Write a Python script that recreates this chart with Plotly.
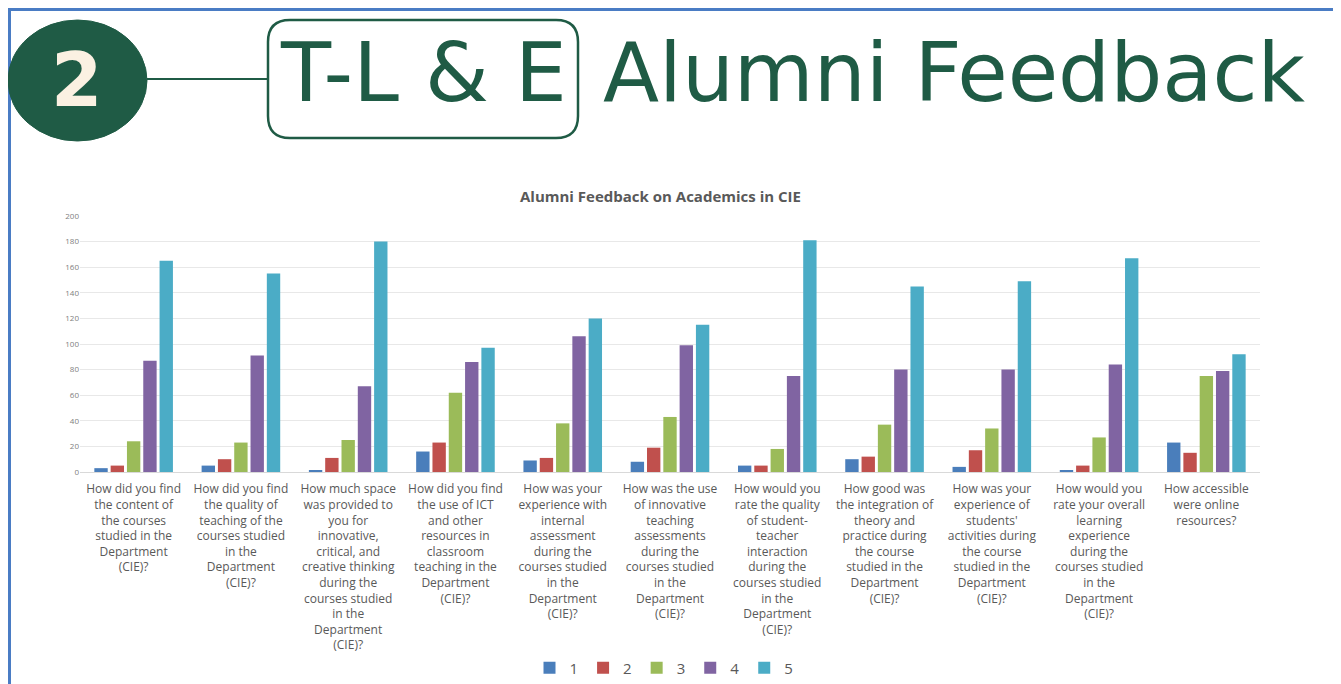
import plotly.graph_objects as go

# ---------------- data ----------------
categories = [
    "How did you find the content of the courses studied in the Department (CIE)?",
    "How did you find the quality of teaching of the courses studied in the Department (CIE)?",
    "How much space was provided to you for innovative, critical, and creative thinking during the courses studied in the Department (CIE)?",
    "How did you find the use of ICT and other resources in classroom teaching in the Department (CIE)?",
    "How was your experience with internal assessment during the courses studied in the Department (CIE)?",
    "How was the use of innovative teaching assessments during the courses studied in the Department (CIE)?",
    "How would you rate the quality of student-teacher interaction during the courses studied in the Department (CIE)?",
    "How good was the integration of theory and practice during the course studied in the Department (CIE)?",
    "How was your experience of students' activities during the course studied in the Department (CIE)?",
    "How would you rate your overall learning experience during the courses studied in the Department (CIE)?",
    "How accessible were online resources?",
]

tick_labels = [
    "How did you find<br>the content of<br>the courses<br>studied in the<br>Department<br>(CIE)?",
    "How did you find<br>the quality of<br>teaching of the<br>courses studied<br>in the<br>Department<br>(CIE)?",
    "How much space<br>was provided to<br>you for<br>innovative,<br>critical, and<br>creative thinking<br>during the<br>courses studied<br>in the<br>Department<br>(CIE)?",
    "How did you find<br>the use of ICT<br>and other<br>resources in<br>classroom<br>teaching in the<br>Department<br>(CIE)?",
    "How was your<br>experience with<br>internal<br>assessment<br>during the<br>courses studied<br>in the<br>Department<br>(CIE)?",
    "How was the use<br>of innovative<br>teaching<br>assessments<br>during the<br>courses studied<br>in the<br>Department<br>(CIE)?",
    "How would you<br>rate the quality<br>of student-<br>teacher<br>interaction<br>during the<br>courses studied<br>in the<br>Department<br>(CIE)?",
    "How good was<br>the integration of<br>theory and<br>practice during<br>the course<br>studied in the<br>Department<br>(CIE)?",
    "How was your<br>experience of<br>students'<br>activities during<br>the course<br>studied in the<br>Department<br>(CIE)?",
    "How would you<br>rate your overall<br>learning<br>experience<br>during the<br>courses studied<br>in the<br>Department<br>(CIE)?",
    "How accessible<br>were online<br>resources?",
]

series_names = ["1", "2", "3", "4", "5"]
rating_1 = [3, 5, 1, 16, 9, 8, 5, 10, 4, 1, 23]
rating_2 = [5, 10, 11, 23, 11, 19, 5, 12, 17, 5, 15]
rating_3 = [24, 23, 25, 62, 38, 43, 18, 37, 34, 27, 75]
rating_4 = [87, 91, 67, 86, 106, 99, 75, 80, 80, 84, 79]
rating_5 = [165, 155, 180, 97, 120, 115, 181, 145, 149, 167, 92]

y_ticks = [0, 20, 40, 60, 80, 100, 120, 140, 160, 180, 200]

# ---------------- styling ----------------
colors = ["#4a7ebb", "#c0504d", "#9bbb59", "#8064a2", "#4bacc6"]
OFF = 8                      # page body margin
W, H = 1341 - OFF, 684 - OFF
PL, PR, PT, PB = 80, 1260, 216, 472   # plot area in page pixels
L, T = PL - OFF, PT - OFF
R, B = W - (PR - OFF), H - (PB - OFF)
PW, PH = PR - PL, PB - PT


def px(x):
    return (x - PL) / PW


def py(y):
    return (PB - y) / PH


fig = go.Figure()
for name, vals, c in zip(series_names,
                         [rating_1, rating_2, rating_3, rating_4, rating_5],
                         colors):
    fig.add_trace(go.Bar(x=categories, y=vals, name=name, marker_color=c,
                         marker_line_width=0))

green = "#1f5b45"
shapes = [
    # slide border
    dict(type="rect", xref="paper", yref="paper", x0=px(9.5), x1=px(1338),
         y0=py(700), y1=py(9.5), line=dict(color="#4a7cc4", width=3)),
    # circle
    dict(type="circle", xref="paper", yref="paper", x0=px(8), x1=px(147),
         y0=py(141), y1=py(20), fillcolor=green, line=dict(color=green, width=1)),
    # connector line
    dict(type="line", xref="paper", yref="paper", x0=px(147), x1=px(269),
         y0=py(79), y1=py(79), line=dict(color=green, width=2)),
]
# rounded box
x0, x1, y0, y1, r = 268, 578, 20, 138, 22


def P(x, y):
    return f"{px(x)},{py(y)}"


path = (f"M {P(x0 + r, y0)} L {P(x1 - r, y0)} Q {P(x1, y0)} {P(x1, y0 + r)} "
        f"L {P(x1, y1 - r)} Q {P(x1, y1)} {P(x1 - r, y1)} "
        f"L {P(x0 + r, y1)} Q {P(x0, y1)} {P(x0, y1 - r)} "
        f"L {P(x0, y0 + r)} Q {P(x0, y0)} {P(x0 + r, y0)} Z")
shapes.append(dict(type="path", xref="paper", yref="paper", path=path,
                   line=dict(color=green, width=2.5)))

hfont = dict(family="DejaVu Sans", size=82, color=green)
annotations = [
    dict(text="<b>2</b>", x=px(77), y=py(80), xref="paper", yref="paper",
         showarrow=False, xanchor="center", yanchor="middle",
         font=dict(family="DejaVu Sans", size=74, color="#fbf1e2")),
    dict(text="T-L & E", x=px(423), y=py(72), xref="paper", yref="paper",
         showarrow=False, xanchor="center", yanchor="middle", font=hfont),
    dict(text="Alumni Feedback", x=px(954), y=py(72), xref="paper", yref="paper",
         showarrow=False, xanchor="center", yanchor="middle", font=hfont),
    dict(text="<b>Alumni Feedback on Academics in CIE</b>", x=px(660), y=py(196),
         xref="paper", yref="paper", showarrow=False, xanchor="center",
         yanchor="middle", font=dict(family="Open Sans", size=15, color="#595959")),
]

fig.update_layout(
    width=W, height=H,
    margin=dict(l=L, r=R, t=T, b=B, autoexpand=False),
    paper_bgcolor="white", plot_bgcolor="white",
    barmode="group", bargap=0.24, bargroupgap=0.18,
    shapes=shapes, annotations=annotations,
    legend=dict(orientation="h", x=px(664), xanchor="center", y=py(668),
                yanchor="middle", font=dict(family="Open Sans", size=15,
                                             color="#595959"),
                itemwidth=30, traceorder="normal"),
    xaxis=dict(tickmode="array", tickvals=categories, ticktext=tick_labels,
               tickangle=0, tickfont=dict(family="Open Sans", size=12,
                                          color="#595959"),
               ticklabelstandoff=6,
               showline=True, linecolor="#d9d9d9", linewidth=1,
               showgrid=False, ticks=""),
    yaxis=dict(range=[0, 200], tickvals=y_ticks, showgrid=True,
               gridcolor="#e8e8e8", gridwidth=1, zeroline=False,
               tickfont=dict(family="Open Sans", size=8, color="#808080"),
               ticks="", showline=False),
)

fig.write_html("out.html")
